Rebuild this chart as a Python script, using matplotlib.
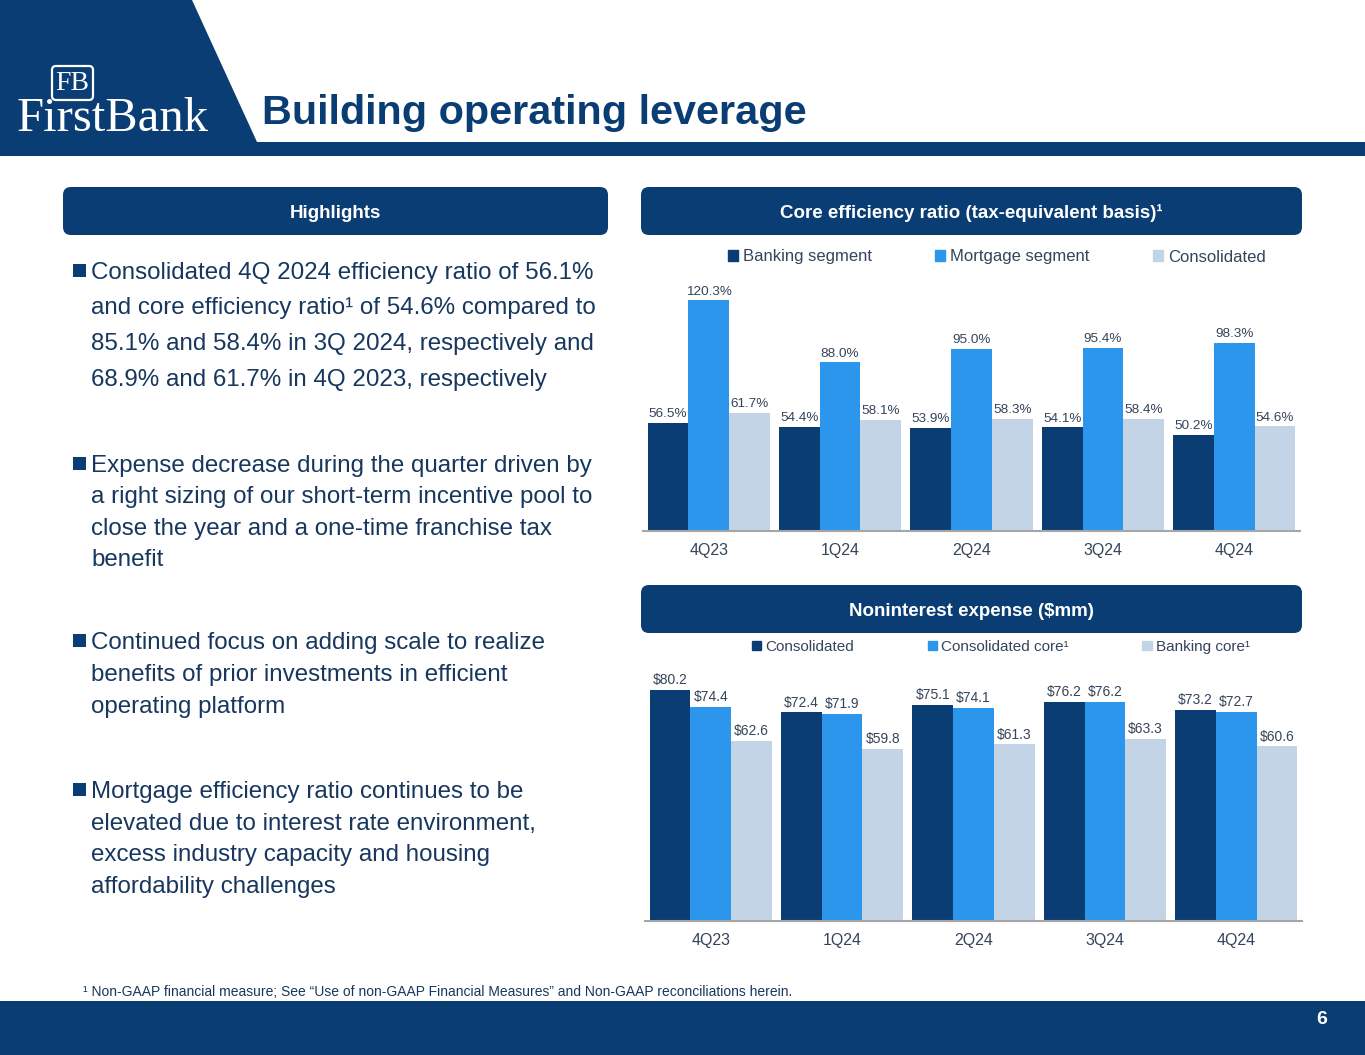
import matplotlib.pyplot as plt
import numpy as np
from matplotlib.patches import FancyBboxPatch, Rectangle, Polygon, Patch

plt.rcParams['font.family'] = ['Liberation Sans', 'DejaVu Sans']

# data
quarters = ['4Q23', '1Q24', '2Q24', '3Q24', '4Q24']
banking_segment = [56.5, 54.4, 53.9, 54.1, 50.2]
mortgage_segment = [120.3, 88.0, 95.0, 95.4, 98.3]
consolidated_ratio = [61.7, 58.1, 58.3, 58.4, 54.6]

expense_consolidated = [80.2, 72.4, 75.1, 76.2, 73.2]
expense_consolidated_core = [74.4, 71.9, 74.1, 76.2, 72.7]
expense_banking_core = [62.6, 59.8, 61.3, 63.3, 60.6]

NAVY = '#0A3D73'
BLUE = '#2B96EC'
LIGHT = '#C3D4E6'
TEXT = '#17375E'
LABEL = '#34445A'

W, H = 1365, 1055
fig = plt.figure(figsize=(W / 100, H / 100), dpi=100)

# background layer in pixel coordinates
bg = fig.add_axes([0, 0, 1, 1])
bg.set_xlim(0, W)
bg.set_ylim(H, 0)
bg.axis('off')

# header
bg.add_patch(Polygon([(0, 0), (192, 0), (257, 142), (W, 142), (W, 156), (0, 156)],
                     closed=True, color=NAVY, lw=0))
bg.add_patch(FancyBboxPatch((52, 66), 41, 34, boxstyle='round,pad=0,rounding_size=4',
                            fc='none', ec='white', lw=1.6))
bg.text(72.5, 84, 'FB', color='white', fontsize=20, family='Liberation Serif',
        ha='center', va='center')
bg.text(17, 131, 'FirstBank', color='white', fontsize=35, family='Liberation Serif',
        ha='left', va='baseline')
bg.text(262, 124, 'Building operating leverage', color=NAVY, fontsize=29.8,
        fontweight='bold', ha='left', va='baseline')

# section headers
def section(x, y, w, h, label):
    bg.add_patch(FancyBboxPatch((x, y), w, h, boxstyle='round,pad=0,rounding_size=8',
                                fc=NAVY, ec='none'))
    bg.text(x + w / 2, y + h / 2 + 2, label, color='white', fontsize=13.5,
            fontweight='bold', ha='center', va='center')

section(63, 187, 545, 48, 'Highlights')
section(641, 187, 661, 48, 'Core efficiency ratio (tax-equivalent basis)¹')
section(641, 585, 661, 48, 'Noninterest expense ($mm)')

# bullets
bullets = [
    ([271, 306, 342, 378], ['Consolidated 4Q 2024 efficiency ratio of 56.1%',
                            'and core efficiency ratio¹ of 54.6% compared to',
                            '85.1% and 58.4% in 3Q 2024, respectively and',
                            '68.9% and 61.7% in 4Q 2023, respectively']),
    ([464, 495, 527, 558], ['Expense decrease during the quarter driven by',
                            'a right sizing of our short-term incentive pool to',
                            'close the year and a one-time franchise tax',
                            'benefit']),
    ([641, 673, 705], ['Continued focus on adding scale to realize',
                       'benefits of prior investments in efficient',
                       'operating platform']),
    ([790, 822, 853, 885], ['Mortgage efficiency ratio continues to be',
                            'elevated due to interest rate environment,',
                            'excess industry capacity and housing',
                            'affordability challenges']),
]
for ys, lines in bullets:
    bg.add_patch(Rectangle((73, ys[0] - 7), 13, 13, color=NAVY, lw=0))
    for y, line in zip(ys, lines):
        bg.text(91, y + 8, line, color=TEXT, fontsize=17.4, ha='left', va='baseline')

# footnote and footer
bg.text(83, 992, '¹ Non-GAAP financial measure; See “Use of non-GAAP Financial Measures” '
        'and Non-GAAP reconciliations herein.', color=TEXT, fontsize=10,
        ha='left', va='center')
bg.add_patch(Rectangle((0, 1001), W, 54, color=NAVY, lw=0))
bg.text(1322, 1020, '6', color='white', fontsize=14, fontweight='bold',
        ha='center', va='center')


def bar_chart(rect, series, colors, names, ymax, fmt, label_size, legend_size,
              legend_center, colspacing):
    ax = fig.add_axes(rect)
    ax.set_facecolor('none')
    x = np.arange(len(quarters))
    w = 0.31
    for i, (vals, c) in enumerate(zip(series, colors)):
        bars = ax.bar(x + (i - 1) * w, vals, w, color=c, zorder=2)
        ax.bar_label(bars, labels=[fmt.format(v) for v in vals], padding=2,
                     fontsize=label_size, color=LABEL)
    ax.set_xlim(-0.5, len(quarters) - 0.5)
    ax.set_ylim(0, ymax)
    ax.set_xticks(x)
    ax.set_xticklabels(quarters)
    ax.tick_params(axis='x', length=0, pad=9, labelsize=11.5, labelcolor=LABEL)
    ax.set_yticks([])
    for s in ['top', 'left', 'right']:
        ax.spines[s].set_visible(False)
    ax.spines['bottom'].set_color('#A6A6A6')
    ax.spines['bottom'].set_linewidth(1.5)
    ax.spines['bottom'].set_zorder(3)
    handles = [Patch(color=c) for c in colors]
    fig.legend(handles, names, loc='center', ncol=3, frameon=False,
               bbox_to_anchor=legend_center, fontsize=legend_size,
               handlelength=0.6, handleheight=0.6, handletextpad=0.3,
               columnspacing=colspacing, labelcolor=LABEL)
    return ax


bar_chart([643 / W, 1 - 531 / H, 657 / W, 251 / H],
          [banking_segment, mortgage_segment, consolidated_ratio],
          [NAVY, BLUE, LIGHT],
          ['Banking segment', 'Mortgage segment', 'Consolidated'],
          251 / 1.917, '{:.1f}%', 9.7, 12, (997 / W, 1 - 257 / H), 3.8)

bar_chart([645 / W, 1 - 921 / H, 657 / W, 256 / H],
          [expense_consolidated, expense_consolidated_core, expense_banking_core],
          [NAVY, BLUE, LIGHT],
          ['Consolidated', 'Consolidated core¹', 'Banking core¹'],
          256 / 2.88, '${:.1f}', 10, 11, (1001 / W, 1 - 647 / H), 4.8)

fig.savefig('out.png', dpi=100)
